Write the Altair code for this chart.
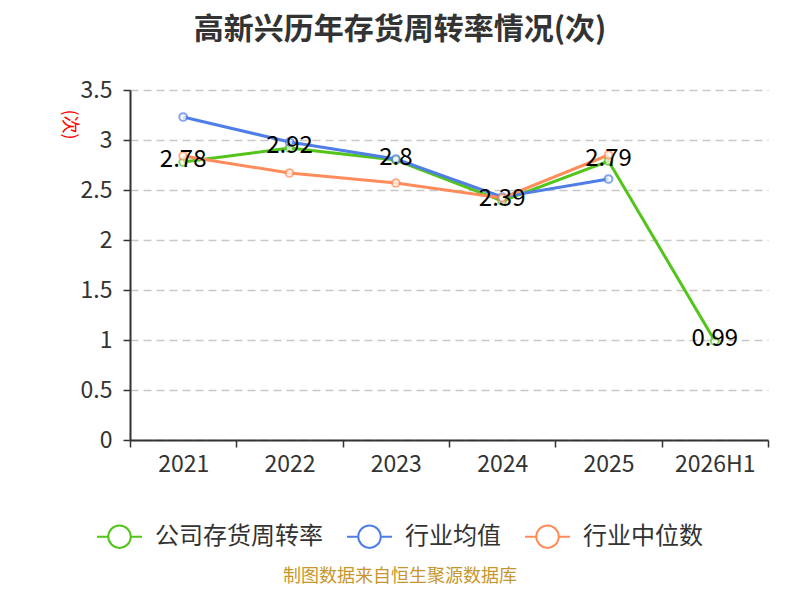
import altair as alt
import pandas as pd

years = ["2021", "2022", "2023", "2024", "2025", "2026H1"]
company = [2.78, 2.92, 2.80, 2.39, 2.79, 0.99]
ind_avg = [3.23, 2.98, 2.81, 2.43, 2.61]
ind_med = [2.84, 2.67, 2.57, 2.42, 2.85]
series = ["公司存货周转率", "行业均值", "行业中位数"]
colors = ["#52C41A", "#4F7FE6", "#FF8C5A"]

rows = []
for y, v in zip(years, company):
    rows.append({"year": y, "value": v, "series": series[0]})
for y, v in zip(years, ind_avg):
    rows.append({"year": y, "value": v, "series": series[1]})
for y, v in zip(years, ind_med):
    rows.append({"year": y, "value": v, "series": series[2]})
df = pd.DataFrame(rows)

FONT = "Noto Sans CJK SC"

x = alt.X("year:N", sort=years, scale=alt.Scale(domain=years, paddingInner=0, paddingOuter=0),
          axis=alt.Axis(title=None, labelAngle=0, labelFontSize=23, labelColor="#333333",
                        labelFont=FONT, tickBand="extent", ticks=True, tickSize=7,
                        tickColor="#333333", tickWidth=1.5, domainColor="#333333", domainWidth=2,
                        labelPadding=6, grid=False))
y = alt.Y("value:Q", scale=alt.Scale(domain=[0, 3.5], nice=False),
          axis=alt.Axis(title="(次)", titleColor="red", titleFontSize=18, titleFont=FONT,
                        titleFontWeight="normal", titleAngle=90, titleX=-62, titleY=34,
                        titleAlign="center", titleBaseline="middle",
                        values=[0, 0.5, 1, 1.5, 2, 2.5, 3, 3.5], format="~g",
                        labelFontSize=23, labelColor="#333333", labelFont=FONT,
                        tickSize=7, tickWidth=1.5, tickColor="#333333", domainColor="#333333",
                        domainWidth=2, grid=True, gridDash=[8, 5], gridColor="#C8C8C8",
                        gridWidth=1.5, labelPadding=11))
color = alt.Color("series:N", scale=alt.Scale(domain=series, range=colors),
                  legend=alt.Legend(title=None, orient="none", legendX=-34, legendY=423,
                                    direction="horizontal", labelFontSize=24, labelFont=FONT,
                                    labelColor="#333333", labelLimit=400,
                                    symbolType="M-1,0L-0.5,0M0.5,0L1,0M0.5,0A0.5,0.5 0 1,1 -0.5,0A0.5,0.5 0 1,1 0.5,0",
                                    symbolSize=2025, symbolStrokeWidth=2, symbolFillColor="white",
                                    columnPadding=20, labelOffset=12))

layers = []
for s in series:
    base = alt.Chart(df).transform_filter(alt.datum.series == s)
    layers.append(base.mark_line(strokeWidth=3).encode(x=x, y=y, color=color))
for s in series:
    base = alt.Chart(df).transform_filter(alt.datum.series == s)
    layers.append(base.mark_point(shape="circle", filled=True, fill="white", size=60,
                                  strokeWidth=2).encode(
        x=x, y=y,
        stroke=alt.Color("series:N", scale=alt.Scale(domain=series, range=colors), legend=None)))

labels = alt.Chart(df).transform_filter(alt.datum.series == series[0]).mark_text(
    fontSize=24, font=FONT, color="black", baseline="middle", dy=-2
).encode(x=x, y=y, text=alt.Text("value:Q", format=".2~f"))
layers.append(labels)

footer = alt.Chart(pd.DataFrame({"t": ["制图数据来自恒生聚源数据库"]})).mark_text(
    fontSize=18, font=FONT, color="#C8962E", baseline="middle"
).encode(x=alt.value(270), y=alt.value(487), text="t:N")
layers.append(footer)

chart = alt.layer(*layers).properties(
    width=638, height=350,
    autosize=alt.AutoSizeParams(type="none"),
    padding={"left": 122, "top": 82, "right": 24, "bottom": 152},
    title=alt.TitleParams("高新兴历年存货周转率情况(次)", fontSize=30, font=FONT,
                          fontWeight="bold", color="#333333", dx=-49, offset=34),
).configure_view(stroke=None).resolve_scale(stroke="shared")

chart.save("out.html", embed_options={"renderer": "svg", "actions": False})
